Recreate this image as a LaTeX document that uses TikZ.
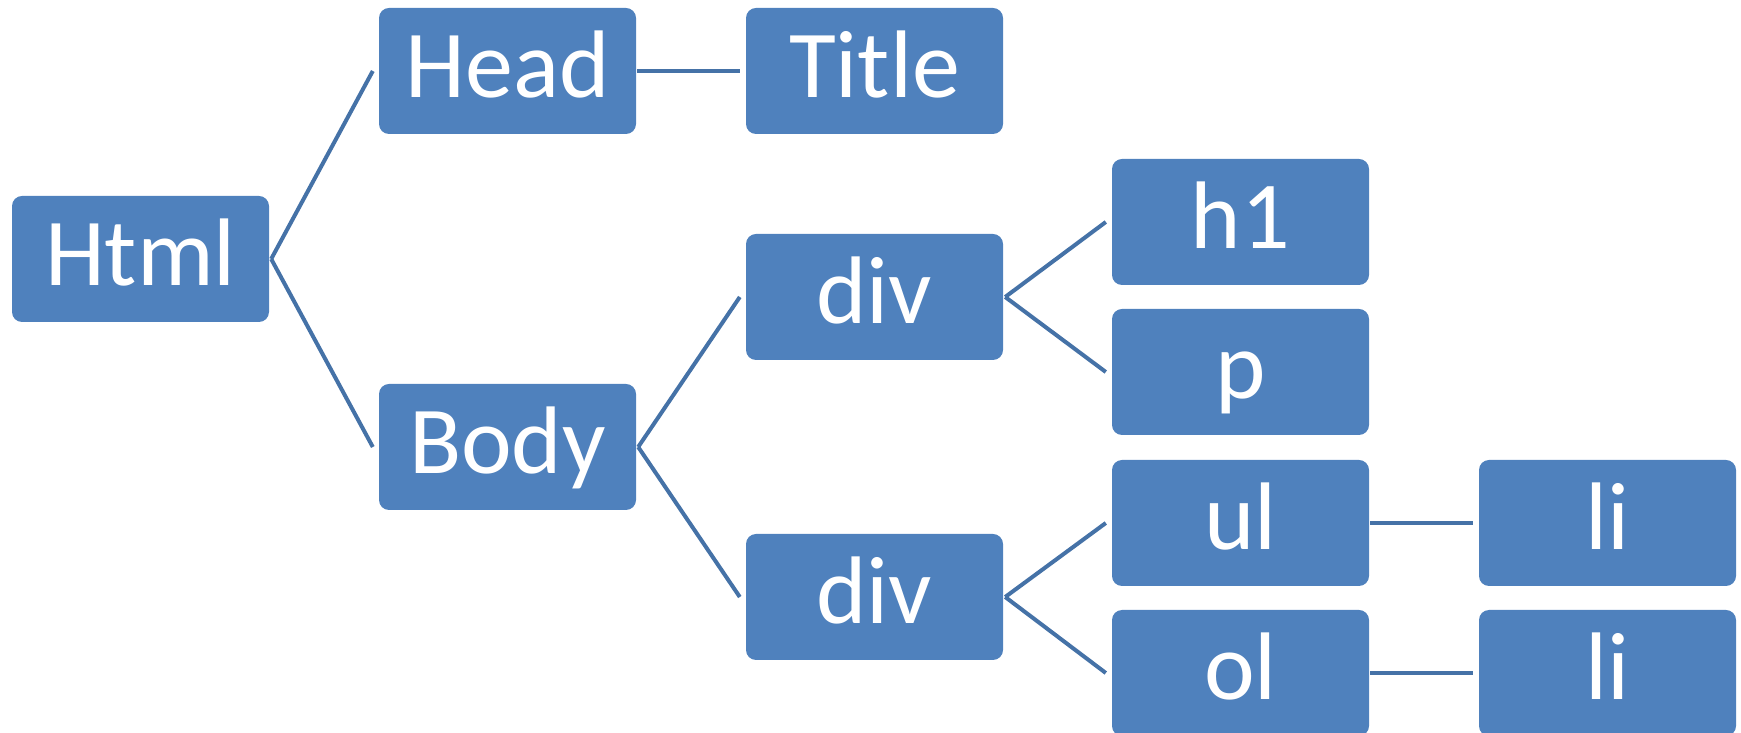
\documentclass[tikz,border=0pt]{standalone}
\usepackage{fontspec}
\setmainfont{Carlito}
\usepackage{xcolor}
\definecolor{boxblue}{HTML}{4F81BD}
\definecolor{linkblue}{HTML}{4572A7}

\begin{document}
\begin{tikzpicture}[
    x=1pt, y=1pt,
    every node/.style={
        fill=boxblue, rounded corners=10pt,
        minimum width=257pt,
        minimum height=126pt,
        inner sep=0pt, text=white,
        text height=67pt, text depth=13pt,
        font=\fontsize{96}{110}\selectfont
    },
    link/.style={draw=linkblue, line width=4pt}
]
\useasboundingbox (0,0) rectangle (1741,733);
\node (html)  at (140.5,  474) {Html};
\node (head)  at (507.5,  662) {Head};
\node (body)  at (507.5,  286) {Body};
\node (title) at (874.5,  662) {Title};
\node (divA)  at (874.5,  436) {div};
\node (divB)  at (874.5,  136) {div};
\node (hone)  at (1240.5, 511) {h1};
\node (para)  at (1240.5, 361) {p};
\node (ulist) at (1240.5, 210) {ul};
\node (olist) at (1240.5,  60) {ol};
\node (liA)   at (1607.5, 210) {li};
\node (liB)   at (1607.5,  60) {li};
\draw[link] ([xshift=2pt]html.east) -- ([xshift=-6pt]head.west);
\draw[link] ([xshift=2pt]html.east) -- ([xshift=-6pt]body.west);
\draw[link] ([xshift=1pt]head.east) -- ([xshift=-6pt]title.west);
\draw[link] ([xshift=2pt]body.east) -- ([xshift=-6pt]divA.west);
\draw[link] ([xshift=2pt]body.east) -- ([xshift=-6pt]divB.west);
\draw[link] ([xshift=2pt]divA.east) -- ([xshift=-6pt]hone.west);
\draw[link] ([xshift=2pt]divA.east) -- ([xshift=-6pt]para.west);
\draw[link] ([xshift=2pt]divB.east) -- ([xshift=-6pt]ulist.west);
\draw[link] ([xshift=2pt]divB.east) -- ([xshift=-6pt]olist.west);
\draw[link] ([xshift=1pt]ulist.east) -- ([xshift=-6pt]liA.west);
\draw[link] ([xshift=1pt]olist.east) -- ([xshift=-6pt]liB.west);
\end{tikzpicture}
\end{document}
